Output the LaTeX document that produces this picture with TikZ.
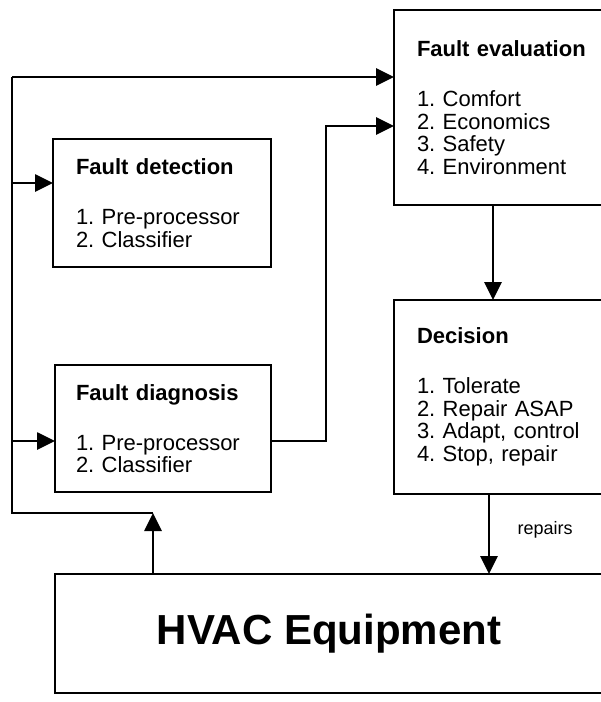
\documentclass[tikz,border=0pt]{standalone}
\usepackage{fontspec}
\setmainfont{Liberation Sans}
\usetikzlibrary{positioning,arrows.meta,calc}
\frenchspacing

\begin{document}
\begin{tikzpicture}[x=1pt,y=-1pt,line width=2.7pt,
      blk/.style={draw,line width=2.9pt,anchor=north west,align=left,outer sep=0pt,
        inner xsep=23pt,inner ysep=0pt,font=\fontsize{22}{22.5}\selectfont},
      arr/.style={-{Triangle[length=18pt,width=17pt]}},
      tag/.style={font=\fontsize{18}{20}\selectfont}]
    \useasboundingbox (0,0) rectangle (601,702);
    \clip (0,0) rectangle (601,702);
    % blocks (right side runs off the page)
    \node[blk,text width=200pt,minimum height=195pt] (eval) at (394,10)
      {\textbf{Fault evaluation}\\[27.5pt]1. Comfort\\2. Economics\\3. Safety\\4. Environment};
    \node[blk,text width=172pt,minimum height=128pt] (detect) at (53,139)
      {\textbf{Fault detection}\\[27.5pt]1. Pre-processor\\2. Classifier};
    \node[blk,text width=174pt,minimum height=127pt,inner xsep=21pt] (diag) at (55,365)
      {\textbf{Fault diagnosis}\\[27.5pt]1. Pre-processor\\2. Classifier};
    \node[blk,text width=200pt,minimum height=194pt] (decision) at (394,300)
      {\textbf{Decision}\\[27.5pt]1. Tolerate\\2. Repair ASAP\\3. Adapt, control\\4. Stop, repair};
    \node[blk,align=center,inner xsep=0pt,minimum width=548pt,minimum height=119pt,
      font=\fontsize{42}{46}\selectfont\bfseries] (hvac) at (55,574) {HVAC Equipment};
    % measurement bus
    \coordinate (tap) at (153,513);
    \coordinate (bus) at (12,513);
    \coordinate (top) at (12,77);
    \draw[arr] (hvac.north west -| tap) -- (tap);
    \draw (tap) -- (bus) -- (top);
    \draw[arr] (top) -- (top -| eval.west);
    \draw[arr] (bus |- 0,183) -- (detect.west |- 0,183);
    \draw[arr] (bus |- 0,441) -- (diag.west |- 0,441);
    % diagnosis -> evaluation -> decision -> equipment
    \draw[arr] (diag.east |- 0,441) -| (326,126) -- (eval.west |- 0,126);
    \draw[arr] (eval.south -| 493,0) -- (decision.north -| 493,0);
    \draw[arr] (decision.south -| 489,0) -- node[tag,right=24pt,pos=0.45] {repairs} (hvac.north -| 489,0);
  \end{tikzpicture}
\end{document}
